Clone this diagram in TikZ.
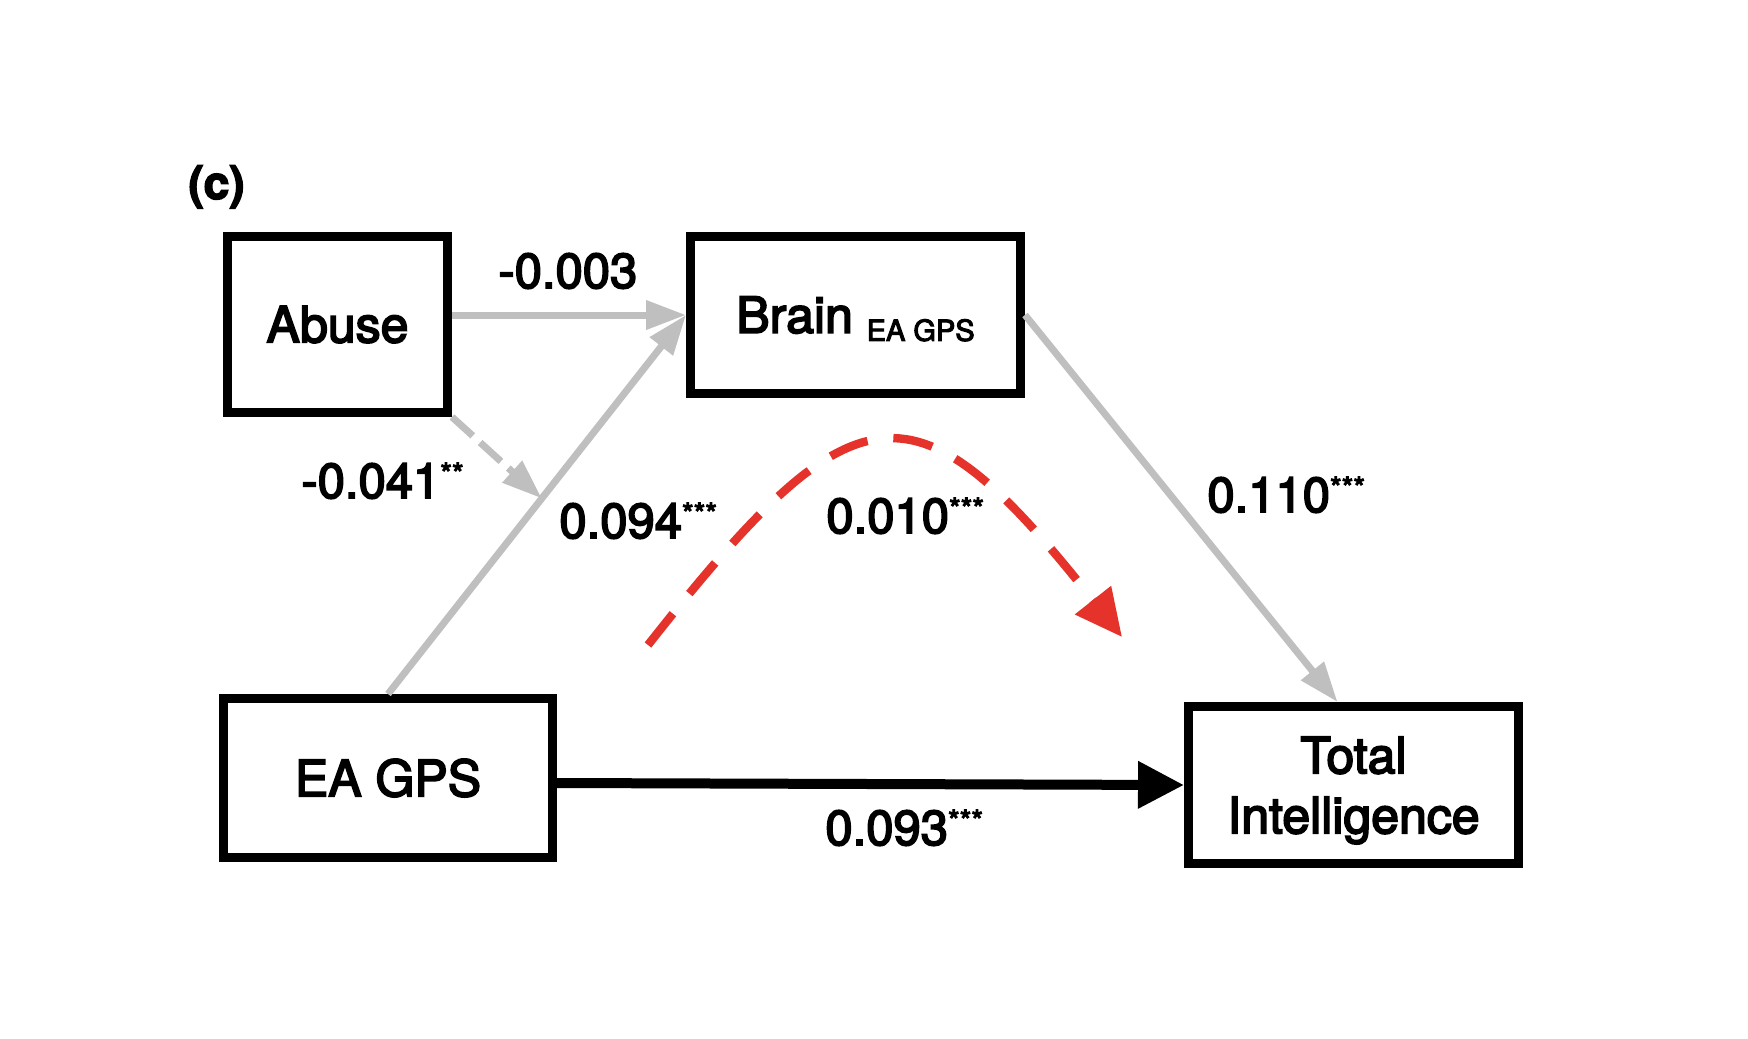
\documentclass[tikz,border=0pt]{standalone}
\usepackage{fontspec}
\setmainfont{TeX Gyre Heros}[FakeBold=3.5]
\usetikzlibrary{arrows.meta,calc}
\definecolor{edgegray}{HTML}{BFBFBF}
\definecolor{medred}{HTML}{E5322A}
\newcommand{\sigstars}[1]{\raisebox{6.8pt}{\fontsize{15}{15}\selectfont #1}}
\begin{document}
\begin{tikzpicture}[x=0.5pt,y=-0.5pt,
  varbox/.style={draw=black, line width=4.5pt, rectangle, inner sep=0pt,
    align=center, font=\fontsize{25}{30}\selectfont},
  coef/.style={inner sep=0pt, anchor=base west, font=\fontsize{24.5}{28}\selectfont},
  grayarrow/.style={draw=edgegray, line width=3.5pt,
    -{Triangle[length=20pt,width=14pt]}},
  graydash/.style={grayarrow, dash pattern=on 14pt off 5pt},
  blackarrow/.style={draw=black, line width=5pt,
    -{Triangle[length=23pt,width=22.5pt]}},
  redarrow/.style={draw=medred, line width=4.2pt, dash pattern=on 20pt off 13pt,
    -{Triangle[length=23.5pt,width=22pt]}}]
\useasboundingbox (0,0) rectangle (1748,1038);
\fill[white] (0,0) rectangle (1748,1038);

% panel label
\node[inner sep=0pt, anchor=base west, font=\fontsize{23}{26}\selectfont\bfseries] (panel) at (188,199) {(c)};

% variable boxes
\node[varbox, minimum width=110pt, minimum height=88pt] (abuse) at (337.5,324.5) {Abuse};
\node[varbox, minimum width=165pt, minimum height=78.5pt] (brain) at (855.5,315)
  {Brain \raisebox{-4pt}[0pt][0pt]{\fontsize{14.5}{16}\selectfont EA GPS}};
\node[varbox, minimum width=164.5pt, minimum height=79.5pt] (ea) at (388,778) {EA GPS};
\node[varbox, minimum width=165pt, minimum height=78.5pt, text depth=0pt] (total) at (1353.5,785)
  {Total\\Intelligence};

% helper coordinates
\coordinate (meet) at ($(ea.north)!0.516!(brain.west)$);
\coordinate (totin) at ($(total.north)+(-16,0)$);
\coordinate (eaout) at ($(ea.east)+(0,5)$);
\coordinate (rs) at (648,645);
\coordinate (re) at (1122,637);

% connectors
\draw[grayarrow] (abuse.east |- brain.west) -- (brain.west);
\draw[grayarrow] (ea.north) -- (brain.west);
\draw[graydash] (abuse.south east) -- (meet);
\draw[grayarrow] (brain.east) -- (totin);
\draw[blackarrow] (eaout) -- (total.west);
\draw[redarrow] (rs) .. controls (856,381) and (914,373) .. (re);

% coefficients
\node[coef] (c1) at (498,288) {-0.003};
\node[coef] (c2) at (301,498) {-0.041\sigstars{**}};
\node[coef] (c3) at (559,538) {0.094\sigstars{***}};
\node[coef] (c4) at (826,533) {0.010\sigstars{***}};
\node[coef] (c5) at (1207,512) {0.110\sigstars{***}};
\node[coef] (c6) at (825,845) {0.093\sigstars{***}};
\end{tikzpicture}
\end{document}
